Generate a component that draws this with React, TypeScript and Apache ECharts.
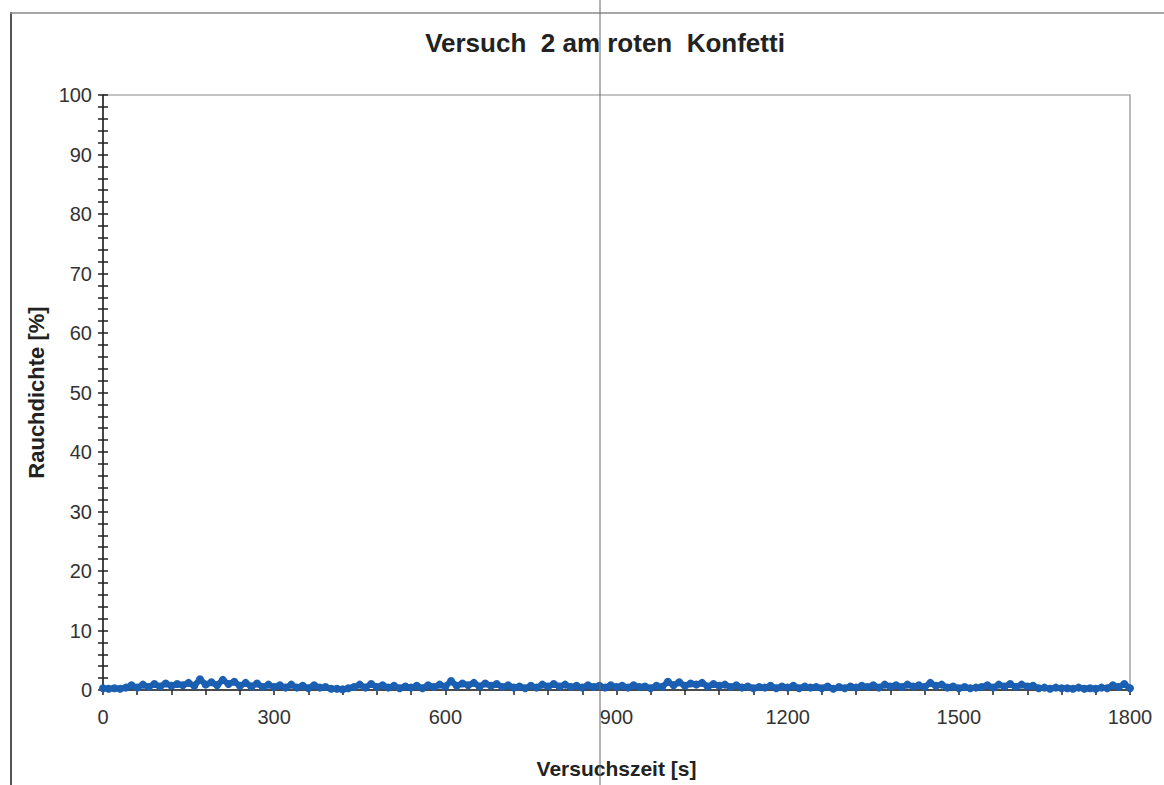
import React, { useEffect, useRef } from "react";
import * as echarts from "echarts";

const titleText = "Versuch  2 am roten  Konfetti";
const xAxisName = "Versuchszeit [s]";
const yAxisName = "Rauchdichte [%]";
const xLabelTicks = [0, 300, 600, 900, 1200, 1500, 1800];
const yLabelTicks = [0, 10, 20, 30, 40, 50, 60, 70, 80, 90, 100];
const timeStep = 10;
const smokeDensity = [
  0.3, 0.2, 0.3, 0.2, 0.4,
  0.8, 0.4, 0.9, 0.5, 1.0,
  0.6, 1.1, 0.7, 1.0, 0.8, 1.2, 0.7, 1.8, 0.9, 1.3,
  0.8, 1.7, 1.0, 1.4, 0.7, 1.2, 0.6, 1.1, 0.5, 0.9,
  0.5, 0.8, 0.4, 0.9, 0.4, 0.7, 0.3, 0.8, 0.4, 0.5,
  0.2, 0.2, 0.1, 0.3, 0.5, 0.9, 0.4, 1.0, 0.5, 0.8,
  0.4, 0.7, 0.3, 0.6, 0.4, 0.7, 0.3, 0.8, 0.5, 0.9,
  0.6, 1.5, 0.7, 1.1, 0.8, 1.2, 0.6, 1.1, 0.7, 1.0,
  0.5, 0.8, 0.4, 0.6, 0.3, 0.7, 0.4, 0.9, 0.6, 1.0,
  0.6, 0.9, 0.5, 0.7, 0.4, 0.8, 0.5, 0.7, 0.4, 0.8,
  0.5, 0.7, 0.4, 0.8, 0.5, 0.6, 0.3, 0.7, 0.5, 1.4,
  0.8, 1.3, 0.7, 1.1, 0.9, 1.2, 0.6, 1.0, 0.7, 0.9,
  0.5, 0.8, 0.4, 0.6, 0.3, 0.5, 0.4, 0.7, 0.3, 0.6,
  0.4, 0.7, 0.3, 0.6, 0.4, 0.5, 0.3, 0.6, 0.2, 0.5,
  0.3, 0.6, 0.4, 0.7, 0.5, 0.8, 0.4, 0.9, 0.6, 0.8,
  0.5, 0.9, 0.6, 0.8, 0.5, 1.2, 0.7, 0.9, 0.4, 0.6,
  0.3, 0.5, 0.3, 0.4, 0.5, 0.8, 0.4, 0.9, 0.6, 1.0,
  0.5, 0.9, 0.6, 0.7, 0.3, 0.4, 0.2, 0.4, 0.3, 0.3,
  0.2, 0.4, 0.2, 0.3, 0.2, 0.4, 0.3, 0.8, 0.5, 1.0,
  0.3,
];

const FONT = "'Liberation Sans', Arial, sans-serif";

export default function App() {
  const ref = useRef<HTMLDivElement>(null);
  useEffect(() => {
    if (!ref.current) return;
    const chart = echarts.init(ref.current, null, { renderer: "svg" });
    const data = smokeDensity.map((v, i) => [i * timeStep, v]);
    const yAxisBase = {
      type: "value",
      min: 0,
      max: 100,
      interval: 2,
      position: "left",
      splitLine: { show: false },
    };
    chart.setOption({
      animation: false,
      backgroundColor: "#ffffff",
      title: {
        text: titleText,
        left: 600,
        top: 25,
        textAlign: "center",
        textStyle: { fontFamily: FONT, fontSize: 26, fontWeight: "bold", color: "#222" },
      },
      grid: {
        left: 103,
        top: 95,
        right: 34,
        bottom: 95,
        show: true,
        borderColor: "#8a8a8a",
        borderWidth: 1.2,
        backgroundColor: "transparent",
      },
      xAxis: {
        type: "value",
        min: 0,
        max: 1800,
        interval: 60,
        name: xAxisName,
        nameLocation: "middle",
        nameGap: 68,
        nameTextStyle: { fontFamily: FONT, fontSize: 21, fontWeight: "bold", color: "#222" },
        axisLine: { show: true, lineStyle: { color: "#222", width: 1.5 } },
        axisTick: { show: true, inside: false, length: 5, lineStyle: { color: "#222", width: 1.5 } },
        axisLabel: {
          fontFamily: FONT,
          fontSize: 20,
          color: "#333",
          margin: 17,
          formatter: (v: number) => (xLabelTicks.includes(v) ? String(v) : ""),
        },
        splitLine: { show: false },
      },
      yAxis: [
        {
          ...yAxisBase,
          name: yAxisName,
          nameLocation: "middle",
          nameGap: 56,
          nameTextStyle: { fontFamily: FONT, fontSize: 22, fontWeight: "bold", color: "#222" },
          axisLine: { show: true, lineStyle: { color: "#222", width: 1.5 } },
          axisTick: { show: true, inside: false, length: 5, lineStyle: { color: "#222", width: 1.5 } },
          axisLabel: {
            fontFamily: FONT,
            fontSize: 20,
            color: "#333",
            margin: 11,
            formatter: (v: number) => (yLabelTicks.includes(v) ? String(v) : ""),
          },
        },
        {
          ...yAxisBase,
          axisLine: { show: false },
          axisTick: { show: true, inside: true, length: 5, lineStyle: { color: "#222", width: 1.5 } },
          axisLabel: { show: false },
        },
      ],
      series: [
        {
          type: "line",
          data,
          yAxisIndex: 0,
          symbol: "circle",
          symbolSize: 8,
          showSymbol: true,
          itemStyle: { color: "#1a5fb2" },
          lineStyle: { color: "#1a5fb2", width: 6 },
          z: 3,
        },
      ],
      graphic: [
        {
          type: "line",
          shape: { x1: 11, y1: 12, x2: 11, y2: 785 },
          style: { stroke: "#555", lineWidth: 2 },
        },
        {
          type: "line",
          shape: { x1: 10, y1: 13, x2: 1164, y2: 13 },
          style: { stroke: "#8a8a8a", lineWidth: 1.5 },
        },
        {
          type: "line",
          shape: { x1: 600, y1: 0, x2: 600, y2: 785 },
          style: { stroke: "#666", lineWidth: 1 },
          z: 10,
        },
      ],
    });
    return () => chart.dispose();
  }, []);
  return (
    <div
      ref={ref}
      style={{ position: "fixed", left: 0, top: 0, width: 1164, height: 785, background: "#fff" }}
    />
  );
}
